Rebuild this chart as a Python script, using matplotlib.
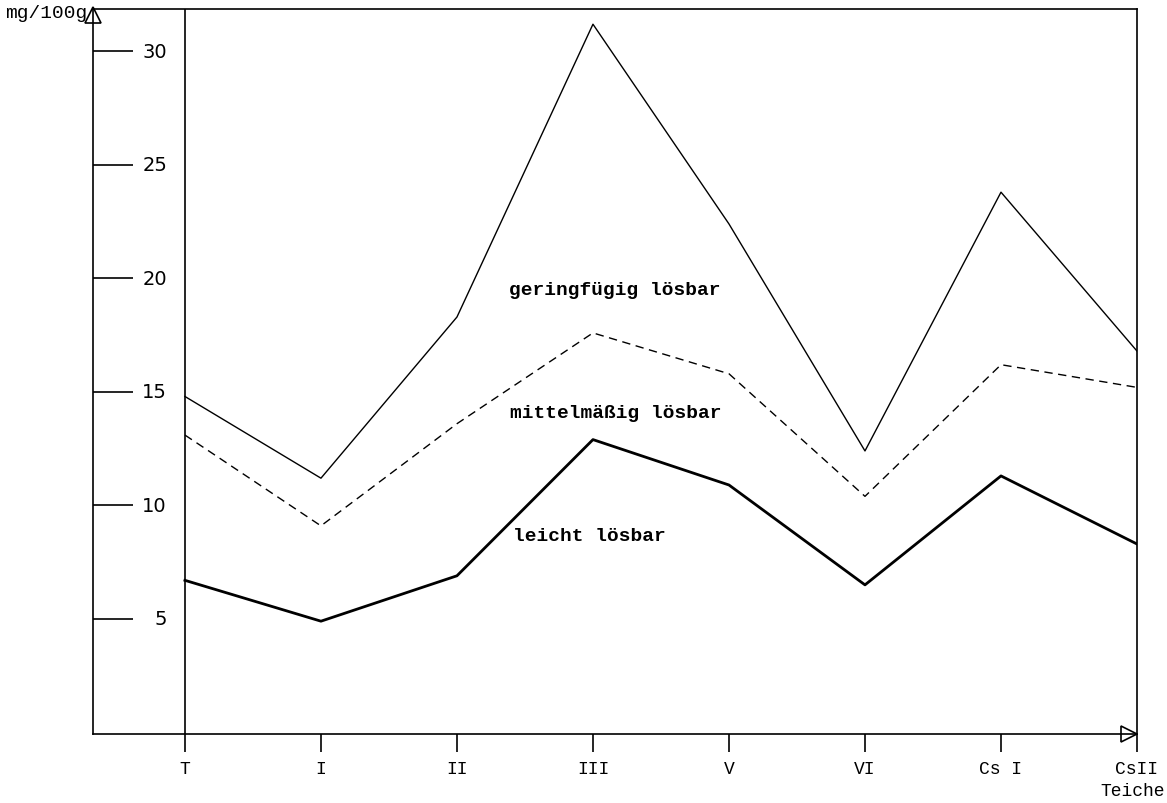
import matplotlib
matplotlib.use('Agg')
import matplotlib.pyplot as plt
import matplotlib.transforms as mtrans

# Teiche (ponds) on the x axis
teiche = ['T', 'I', 'II', 'III', 'V', 'VI', 'Cs I', 'CsII']

# mg/100g
gering = [14.8, 11.2, 18.3, 31.2, 22.4, 12.4, 23.8, 16.8]   # geringfügig lösbar
mittel = [13.1, 9.1, 13.6, 17.6, 15.8, 10.4, 16.2, 15.2]    # mittelmäßig lösbar
leicht = [6.7, 4.9, 6.9, 12.9, 10.9, 6.5, 11.3, 8.3]        # leicht lösbar

yticks = [5, 10, 15, 20, 25, 30]

mono = 'Liberation Mono'

W, H = 1167, 804
fig = plt.figure(figsize=(W / 100, H / 100), dpi=100)
ax = fig.add_axes([93 / W, (H - 735) / H, (1137 - 93) / W, (735 - 10) / H])

x = list(range(len(teiche)))
ax.plot(x, gering, color='black', lw=1.0)
ax.plot(x, mittel, color='black', lw=1.0, ls=(0, (6, 4)))
ax.plot(x, leicht, color='black', lw=2.0)

ax.set_xlim(-0.676, 7)
ax.set_ylim(-0.07, 31.87)

for s in ax.spines.values():
    s.set_linewidth(1.2)
    s.set_color('black')

# vertical line through T
ax.axvline(0, color='black', lw=1.2)

# x ticks below the axis
ax.set_xticks(x)
ax.set_xticklabels(teiche, fontfamily=mono, fontsize=13)
ax.tick_params(axis='x', direction='out', length=13, width=1.2, pad=6)

# y ticks pointing into the frame, labels inside
ax.set_yticks(yticks)
ax.set_yticklabels([])
ax.tick_params(axis='y', direction='in', length=29, width=1.2)
tr = mtrans.blended_transform_factory(ax.transAxes, ax.transData)
for v in yticks:
    ax.text(74 / 1044, v, str(v), transform=tr, ha='right', va='center',
            fontsize=14, family='DejaVu Sans')

# arrow heads
ax.plot([0], [0.992], marker='^', ms=12, mfc='white', mec='black', mew=1.2,
        transform=ax.transAxes, clip_on=False)
ax.plot([0.992], [0], marker='>', ms=12, mfc='white', mec='black', mew=1.2,
        transform=ax.transAxes, clip_on=False)

# labels
fig.text(5 / W, 1 - 13 / H, 'mg/100g', ha='left', va='center',
         fontsize=14, family=mono)
fig.text(1133 / W, 1 - 792 / H, 'Teiche', ha='center', va='center',
         fontsize=13, family=mono)

ax.text(3.16, 19.5, 'geringfügig lösbar', ha='center', va='center',
        fontsize=14, family=mono, fontweight='bold')
ax.text(3.17, 14.1, 'mittelmäßig lösbar', ha='center', va='center',
        fontsize=14, family=mono, fontweight='bold')
ax.text(2.97, 8.66, 'leicht lösbar', ha='center', va='center',
        fontsize=14, family=mono, fontweight='bold')

fig.savefig('out.png', dpi=100, facecolor='white')
